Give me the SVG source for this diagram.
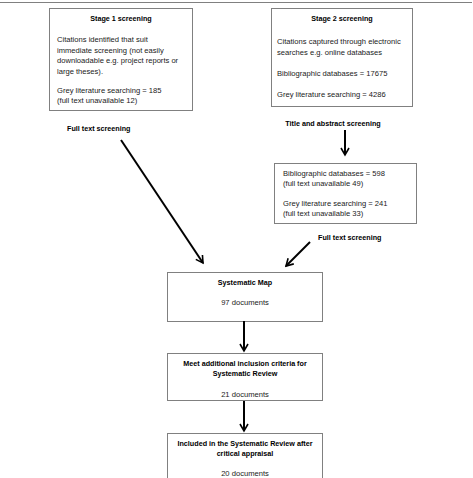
<svg xmlns="http://www.w3.org/2000/svg" width="473" height="478" viewBox="0 0 473 478">
<defs>
<style>
.box{fill:#fff;stroke:#808080;stroke-width:1}
text{font-family:"Liberation Sans",Arial,sans-serif;font-size:7.6px;fill:#1a1a1a}
.b{font-weight:bold;fill:#000;font-size:7.2px}
.c{text-anchor:middle}
.arr{stroke:#000;stroke-width:2;fill:none;marker-end:url(#ah)}
</style>
<marker id="ah" viewBox="0 0 10 10" refX="8" refY="5" markerWidth="5" markerHeight="5" orient="auto" markerUnits="strokeWidth">
<path d="M1,1 L8,5 L1,9" fill="none" stroke="#000" stroke-width="1.6"/>
</marker>
</defs>
<rect width="473" height="478" fill="#fff"/>
<line x1="0" y1="2.5" x2="472" y2="2.5" stroke="#808080" stroke-width="1"/>
<g id="stage1">
<rect class="box" x="49.5" y="8.5" width="143" height="102"/>
<text class="b c" x="121" y="20.5">Stage 1 screening</text>
<text x="57" y="42">Citations identified that suit</text>
<text x="57" y="52.5">immediate screening (not easily</text>
<text x="57" y="63">downloadable e.g. project reports or</text>
<text x="57" y="73.5">large theses).</text>
<text x="57" y="92.5">Grey literature searching = 185</text>
<text x="57" y="103">(full text unavailable 12)</text>
</g>
<g id="stage2">
<rect class="box" x="271.5" y="8.5" width="141" height="98"/>
<text class="b c" x="342" y="20.5">Stage 2 screening</text>
<text x="277" y="44">Citations captured through electronic</text>
<text x="277" y="54.5">searches e.g. online databases</text>
<text x="277" y="75.5">Bibliographic databases = 17675</text>
<text x="277" y="97">Grey literature searching = 4286</text>
</g>
<g id="label1"><text class="b" x="67" y="130.5">Full text screening</text></g>
<g id="label2"><text class="b c" x="333" y="125.5">Title and abstract screening</text></g>
<g id="stage2b">
<rect class="box" x="274.5" y="163.5" width="142" height="60"/>
<text x="283" y="175.5">Bibliographic databases = 598</text>
<text x="283" y="185.5">(full text unavailable 49)</text>
<text x="283" y="205.5">Grey literature searching = 241</text>
<text x="283" y="215.5">(full text unavailable 33)</text>
</g>
<g id="label3"><text class="b" x="318" y="239.5">Full text screening</text></g>
<g id="map">
<rect class="box" x="167.5" y="272.5" width="155" height="49"/>
<text class="b c" x="245" y="284.5">Systematic Map</text>
<text class="c" x="245" y="304.5">97 documents</text>
</g>
<g id="review">
<rect class="box" x="167.5" y="353.5" width="155" height="47"/>
<text class="b c" x="245" y="365.5">Meet additional inclusion criteria for</text>
<text class="b c" x="245" y="376">Systematic Review</text>
<text class="c" x="245" y="396.5">21 documents</text>
</g>
<g id="final">
<rect class="box" x="167.5" y="433.5" width="155" height="50"/>
<text class="b c" x="245" y="445.5">Included in the Systematic Review after</text>
<text class="b c" x="245" y="456">critical appraisal</text>
<text class="c" x="245" y="476">20 documents</text>
</g>
<g id="connectors">
<line class="arr" x1="121" y1="140" x2="203" y2="263"/>
<line class="arr" x1="345" y1="130" x2="345" y2="155"/>
<line class="arr" x1="310" y1="242" x2="286" y2="266"/>
<line class="arr" x1="244" y1="321" x2="244" y2="351"/>
<line class="arr" x1="244" y1="401" x2="244" y2="431"/>
</g>
</svg>
